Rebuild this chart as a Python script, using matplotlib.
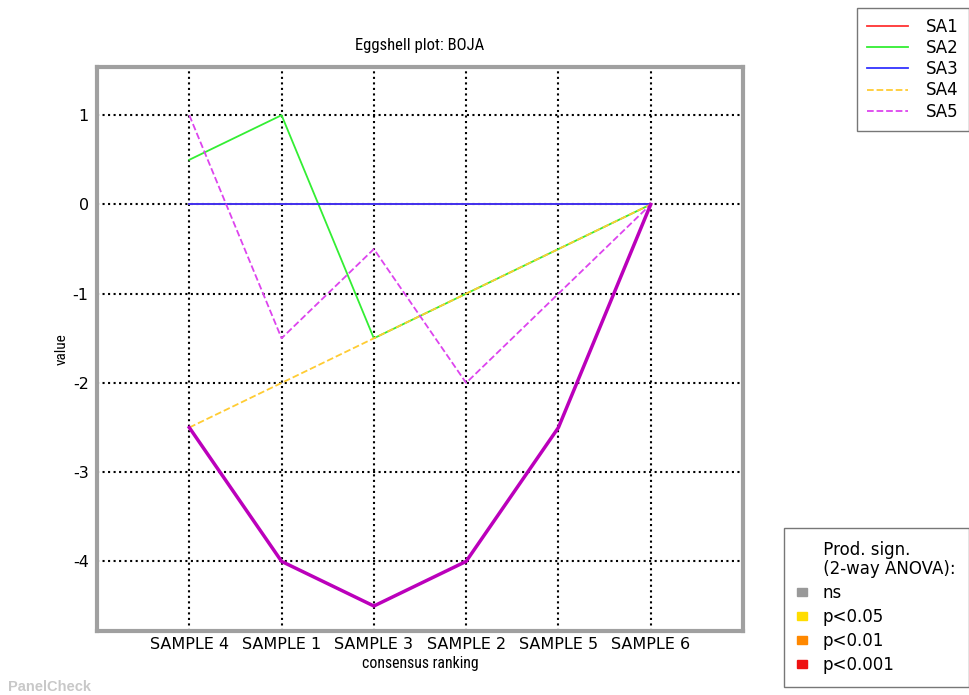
import matplotlib.pyplot as plt
from matplotlib.patches import Patch
from matplotlib.lines import Line2D

plt.rcParams["axes.unicode_minus"] = False

# data
samples = ["SAMPLE 4", "SAMPLE 1", "SAMPLE 3", "SAMPLE 2", "SAMPLE 5", "SAMPLE 6"]
consensus = [-2.5, -4, -4.5, -4, -2.5, 0]
sa1 = [0, 0, 0, 0, 0, 0]
sa2 = [0.5, 1, -1.5, -1, -0.5, 0]
sa3 = [0, 0, 0, 0, 0, 0]
sa4 = [-2.5, -2, -1.5, -1, -0.5, 0]
sa5 = [1, -1.5, -0.5, -2, -1, 0]

assessors = ["SA1", "SA2", "SA3", "SA4", "SA5"]
colors = ["#ff3333", "#33ee33", "#3333ff", "#ffcc33", "#dd44ee"]
styles = ["-", "-", "-", "--", "--"]
sign_labels = ["ns", "p<0.05", "p<0.01", "p<0.001"]
sign_colors = ["#999999", "#ffdd00", "#ff8800", "#ee1111"]

fig = plt.figure(figsize=(9.7, 6.95), dpi=100)
ax = fig.add_axes([97 / 970, 1 - 631 / 695, (743 - 97) / 970, (631 - 67) / 695])

x = list(range(len(samples)))
handles = []
for vals, name, c, ls in zip([sa1, sa2, sa3, sa4, sa5], assessors, colors, styles):
    ax.plot(x, vals, color=c, ls=ls, lw=1.3)
    handles.append(Line2D([], [], color=c, ls=ls, lw=1.3, label=name))
ax.plot(x, consensus, color="#bb00bb", lw=2.5)

ax.set_xlim(-1, 6)
ax.set_ylim(-4.78, 1.54)
ax.set_xticks(x)
ax.set_xticklabels(samples, fontsize=11.5)
ax.set_yticks([1, 0, -1, -2, -3, -4])
ax.tick_params(axis="y", labelsize=11.5, pad=6)
ax.tick_params(axis="x", pad=4)
ax.tick_params(length=0)
ax.grid(True, color="black", ls=":", lw=1.5)
for s in ax.spines.values():
    s.set_color("#a0a0a0")
    s.set_linewidth(3)

narrow = ["Liberation Sans Narrow", "DejaVu Sans Condensed", "Roboto Condensed", "Liberation Sans"]
ax.set_title("Eggshell plot: BOJA", fontsize=12, family=narrow, stretch="condensed", pad=12)
ax.set_xlabel("consensus ranking", fontsize=11.3, family=narrow, stretch="condensed", labelpad=3)
ax.set_ylabel("value", fontsize=11, family=narrow, stretch="condensed", labelpad=3)

leg1 = fig.legend(handles=handles, loc="upper right", bbox_to_anchor=(0.999, 0.9885),
                  fontsize=12, fancybox=False, edgecolor="#555555",
                  handlelength=2.45, handletextpad=1.1, borderpad=0.6, labelspacing=0.19,
                  borderaxespad=0)

sign_handles = [Patch(color=c, label=l) for l, c in zip(sign_labels, sign_colors)]
leg2 = fig.legend(handles=sign_handles, loc="lower right", bbox_to_anchor=(0.999, 0.011),
                  fontsize=12, fancybox=False, edgecolor="#555555",
                  title="     Prod. sign.\n     (2-way ANOVA):", title_fontsize=12,
                  alignment="left", borderaxespad=0,
                  handlelength=0.6, handleheight=0.4, handletextpad=0.9,
                  borderpad=0.8, labelspacing=0.36)
leg2.get_title().set_multialignment("left")
leg2.get_title().set_linespacing(1.05)

fig.text(0.008, 0.006, "PanelCheck", fontsize=10.5, color="#c8c8c8",
         weight="bold", family=["Liberation Sans", "DejaVu Sans"])

fig.savefig("out.png", dpi=100)
